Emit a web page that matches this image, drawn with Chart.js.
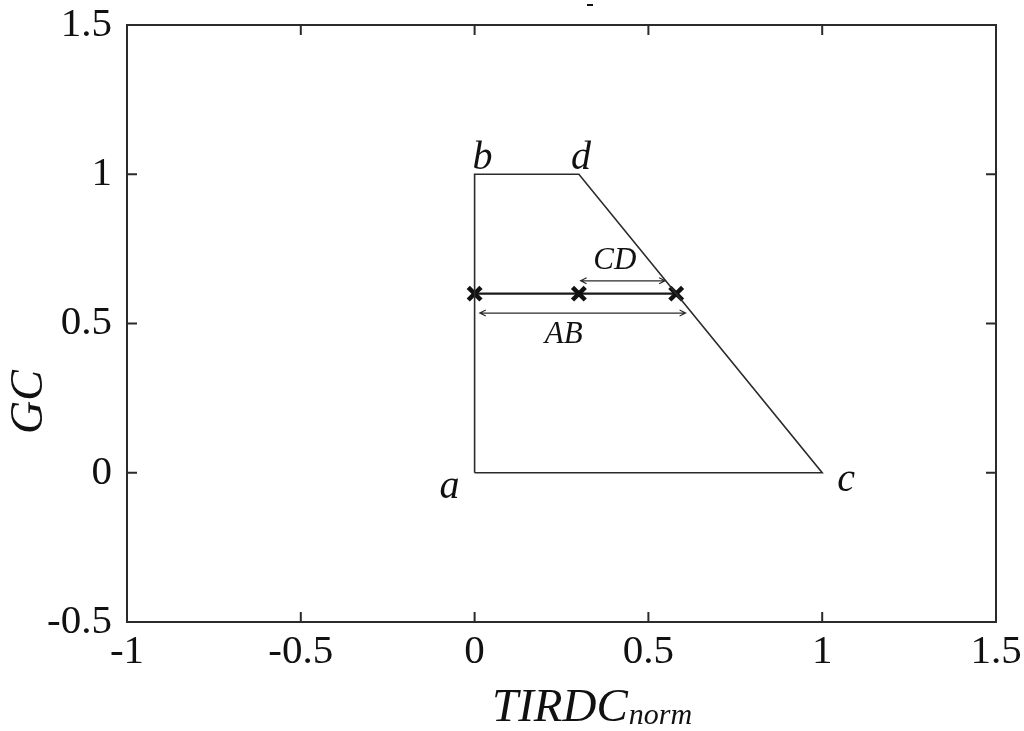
<!DOCTYPE html>
<html>
<head>
<meta charset="utf-8">
<script src="https://cdn.jsdelivr.net/npm/chart.js@4/dist/chart.umd.min.js"></script>
<style>
  html, body { margin: 0; padding: 0; background: #fff; }
  #wrap { width: 1024px; height: 731px; }
</style>
</head>
<body>
<div id="wrap"><canvas id="chart" width="1024" height="731"></canvas></div>
<script>
// Region outline a -> b -> d -> c -> a
const outlineX = [0, 0, 0.3, 1, 0];
const outlineY = [0, 1, 1, 0, 0];

// Cut line at GC = 0.6 with the three marked points
const cutX = [0, 0.3, 0.58];
const cutY = [0.6, 0.6, 0.6];

// Double arrows: [x start, x end, y]
const arrowNames = ['AB', 'CD'];
const arrowFrom = [0.015, 0.305];
const arrowTo = [0.607, 0.548];
const arrowY = [0.535, 0.643];

// Corner letters
const cornerNames = ['a', 'b', 'c', 'd'];
const cornerX = [0, 0, 1, 0.3];
const cornerY = [0, 1, 0, 1];

// Axis ticks
const xTicks = [-1, -0.5, 0, 0.5, 1, 1.5];
const yTicks = [-0.5, 0, 0.5, 1, 1.5];

const INK = '#2b2b2b';
const SERIF = '"Times New Roman", "Liberation Serif", Times, serif';

const toPoints = (xs, ys) => xs.map((x, i) => ({ x: x, y: ys[i] }));

// Box, inward ticks, letters, arrows and the axis titles
const decorations = {
  id: 'decorations',
  afterDatasetsDraw(chart) {
    const { ctx, chartArea: area, scales: { x, y } } = chart;
    ctx.save();

    // frame
    ctx.strokeStyle = INK;
    ctx.lineWidth = 2;
    ctx.strokeRect(area.left, area.top, area.right - area.left, area.bottom - area.top);

    // inward ticks on all four sides
    ctx.beginPath();
    xTicks.forEach(v => {
      const px = x.getPixelForValue(v);
      ctx.moveTo(px, area.bottom); ctx.lineTo(px, area.bottom - 10);
      ctx.moveTo(px, area.top); ctx.lineTo(px, area.top + 10);
    });
    yTicks.forEach(v => {
      const py = y.getPixelForValue(v);
      ctx.moveTo(area.left, py); ctx.lineTo(area.left + 10, py);
      ctx.moveTo(area.right, py); ctx.lineTo(area.right - 10, py);
    });
    ctx.stroke();

    // arrows
    ctx.lineWidth = 1.2;
    arrowNames.forEach((name, i) => {
      const x1 = x.getPixelForValue(arrowFrom[i]);
      const x2 = x.getPixelForValue(arrowTo[i]);
      const py = y.getPixelForValue(arrowY[i]);
      ctx.beginPath();
      ctx.moveTo(x1, py); ctx.lineTo(x2, py);
      ctx.moveTo(x1 + 6, py - 3); ctx.lineTo(x1, py); ctx.lineTo(x1 + 6, py + 3);
      ctx.moveTo(x2 - 6, py - 3); ctx.lineTo(x2, py); ctx.lineTo(x2 - 6, py + 3);
      ctx.stroke();
    });

    ctx.fillStyle = '#111';
    ctx.textBaseline = 'alphabetic';

    // arrow labels
    ctx.font = 'italic 31px ' + SERIF;
    ctx.textAlign = 'center';
    ctx.fillText('CD', (x.getPixelForValue(arrowFrom[1]) + x.getPixelForValue(arrowTo[1])) / 2 - 8,
      y.getPixelForValue(arrowY[1]) - 12);
    ctx.fillText('AB', (x.getPixelForValue(arrowFrom[0]) + x.getPixelForValue(arrowTo[0])) / 2 - 19,
      y.getPixelForValue(arrowY[0]) + 30);

    // corner letters
    ctx.font = 'italic 40px ' + SERIF;
    const shift = { a: [-25, 25], b: [8, -5], c: [24, 18], d: [2, -5] };
    cornerNames.forEach((n, i) => {
      const px = x.getPixelForValue(cornerX[i]) + shift[n][0];
      const py = y.getPixelForValue(cornerY[i]) + shift[n][1];
      ctx.fillText(n, px, py);
    });

    // y title
    ctx.save();
    ctx.translate(42, 402);
    ctx.rotate(-Math.PI / 2);
    ctx.font = 'italic 46px ' + SERIF;
    ctx.textAlign = 'center';
    ctx.fillText('GC', 0, 0);
    ctx.restore();

    // x title with subscript
    const mainText = 'TIRDC';
    const subText = 'norm';
    ctx.textAlign = 'left';
    ctx.font = 'italic 47px ' + SERIF;
    const wMain = ctx.measureText(mainText).width;
    ctx.fillText(mainText, 492, 721);
    ctx.font = 'italic 30px ' + SERIF;
    ctx.fillText(subText, 492 + wMain + 1, 724);

    // stray mark at the top
    ctx.fillRect(587, 4, 6, 2);

    ctx.restore();
  }
};

new Chart(document.getElementById('chart'), {
  type: 'scatter',
  data: {
    datasets: [
      {
        label: 'region',
        data: toPoints(outlineX, outlineY),
        showLine: true,
        borderColor: INK,
        borderWidth: 1.6,
        pointRadius: 0,
        tension: 0
      },
      {
        label: 'cut',
        data: toPoints(cutX, cutY),
        showLine: true,
        borderColor: '#1a1a1a',
        borderWidth: 2.2,
        pointStyle: 'crossRot',
        pointRadius: 9,
        pointBorderWidth: 4.5,
        pointBorderColor: '#111',
        tension: 0
      }
    ]
  },
  options: {
    responsive: false,
    animation: false,
    layout: { padding: { top: 25, right: 28, left: 0, bottom: 0 } },
    plugins: {
      legend: { display: false },
      tooltip: { enabled: false }
    },
    scales: {
      x: {
        type: 'linear',
        min: -1,
        max: 1.5,
        afterBuildTicks: s => { s.ticks = xTicks.map(v => ({ value: v })); },
        afterFit: s => { s.height = 109; s.paddingLeft = 0; s.paddingRight = 0; },
        grid: { display: false, drawTicks: false },
        border: { display: false },
        ticks: {
          color: '#111',
          padding: 6,
          font: { family: SERIF, size: 41 },
          maxRotation: 0,
          callback: v => String(v)
        }
      },
      y: {
        type: 'linear',
        min: -0.5,
        max: 1.5,
        afterBuildTicks: s => { s.ticks = yTicks.map(v => ({ value: v })); },
        afterFit: s => { s.width = 127; s.paddingTop = 0; s.paddingBottom = 0; },
        grid: { display: false, drawTicks: false },
        border: { display: false },
        ticks: {
          color: '#111',
          padding: 15,
          font: { family: SERIF, size: 41 },
          callback: v => String(v)
        }
      }
    }
  },
  plugins: [decorations]
});
</script>
</body>
</html>
